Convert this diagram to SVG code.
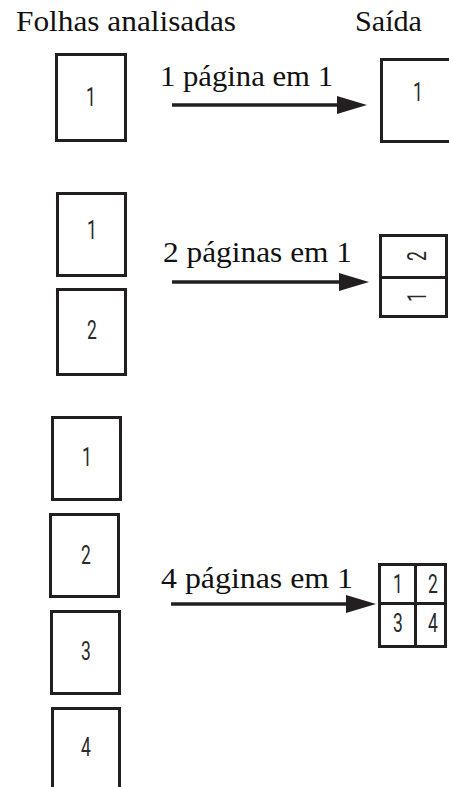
<svg xmlns="http://www.w3.org/2000/svg" width="449" height="787" viewBox="0 0 449 787">
<style>
.hdr{font-family:Times,'Liberation Serif','Times New Roman',serif;font-size:30px;fill:#111}
.lbl{font-family:Times,'Liberation Serif','Times New Roman',serif;font-size:30px;fill:#111}
.pg{fill:#fff;stroke:#231f20;stroke-width:3}
.grid{fill:none;stroke:#231f20;stroke-width:3}
.num{font-family:Roboto,'Liberation Sans',sans-serif;font-weight:400;font-size:25px;fill:#2a2a2a;text-anchor:middle;dominant-baseline:central}
.arr{stroke:#231f20;stroke-width:3.5;fill:none}
.head{fill:#231f20}
</style>
<rect width="449" height="787" fill="#fff"/>
<text class="hdr" x="16" y="31" textLength="220" lengthAdjust="spacingAndGlyphs">Folhas analisadas</text>
<text class="hdr" x="355" y="31" textLength="67" lengthAdjust="spacingAndGlyphs">Saída</text>

<g id="in1-1"><rect class="pg" x="56.5" y="54.5" width="69" height="86"/><text class="num" transform="translate(91,97) scale(0.7,1)">1</text></g>
<g id="out1"><rect class="pg" x="381.5" y="59.5" width="80" height="82"/><text class="num" transform="translate(418,92) scale(0.7,1)">1</text></g>

<g id="in2-1"><rect class="pg" x="57.5" y="193.5" width="68" height="82"/><text class="num" transform="translate(92,230) scale(0.7,1)">1</text></g>
<g id="in2-2"><rect class="pg" x="57.5" y="289.5" width="68" height="85"/><text class="num" transform="translate(92,330) scale(0.7,1)">2</text></g>
<g id="out2"><rect class="grid" x="380.5" y="235.5" width="66" height="81"/><line class="grid" x1="380.5" y1="277.5" x2="446.5" y2="277.5"/>
<text class="num" transform="translate(417,256) rotate(-90) scale(0.7,1)">2</text>
<text class="num" transform="translate(417,297) rotate(-90) scale(0.7,1)">1</text></g>

<g id="in4-1"><rect class="pg" x="52.5" y="417.5" width="68" height="82"/><text class="num" transform="translate(87,457) scale(0.7,1)">1</text></g>
<g id="in4-2"><rect class="pg" x="50.5" y="514.5" width="68" height="82"/><text class="num" transform="translate(86,555) scale(0.7,1)">2</text></g>
<g id="in4-3"><rect class="pg" x="51.5" y="611.5" width="68" height="82"/><text class="num" transform="translate(86,651) scale(0.7,1)">3</text></g>
<g id="in4-4"><rect class="pg" x="52.5" y="708.5" width="67" height="100"/><text class="num" transform="translate(86,747) scale(0.7,1)">4</text></g>
<g id="out4"><rect class="grid" x="379.5" y="564.5" width="66" height="82"/>
<line class="grid" x1="379.5" y1="603.5" x2="445.5" y2="603.5"/><line class="grid" x1="415.5" y1="564.5" x2="415.5" y2="646.5"/>
<text class="num" transform="translate(398,584) scale(0.7,1)">1</text><text class="num" transform="translate(433,584) scale(0.7,1)">2</text>
<text class="num" transform="translate(398,623) scale(0.7,1)">3</text><text class="num" transform="translate(433,623) scale(0.7,1)">4</text></g>

<g id="connectors">
<line class="arr" x1="172" y1="105" x2="340" y2="105"/><polygon class="head" points="337,96 367,105 337,114"/>
<text class="lbl" x="160" y="86" textLength="173" lengthAdjust="spacingAndGlyphs">1 página em 1</text>
<line class="arr" x1="172" y1="282" x2="342" y2="282"/><polygon class="head" points="339,273 369,282 339,291"/>
<text class="lbl" x="163" y="262" textLength="189" lengthAdjust="spacingAndGlyphs">2 páginas em 1</text>
<line class="arr" x1="171" y1="604" x2="350" y2="604"/><polygon class="head" points="346,595 376,604 346,613"/>
<text class="lbl" x="161" y="588" textLength="192" lengthAdjust="spacingAndGlyphs">4 páginas em 1</text>
</g>
</svg>
